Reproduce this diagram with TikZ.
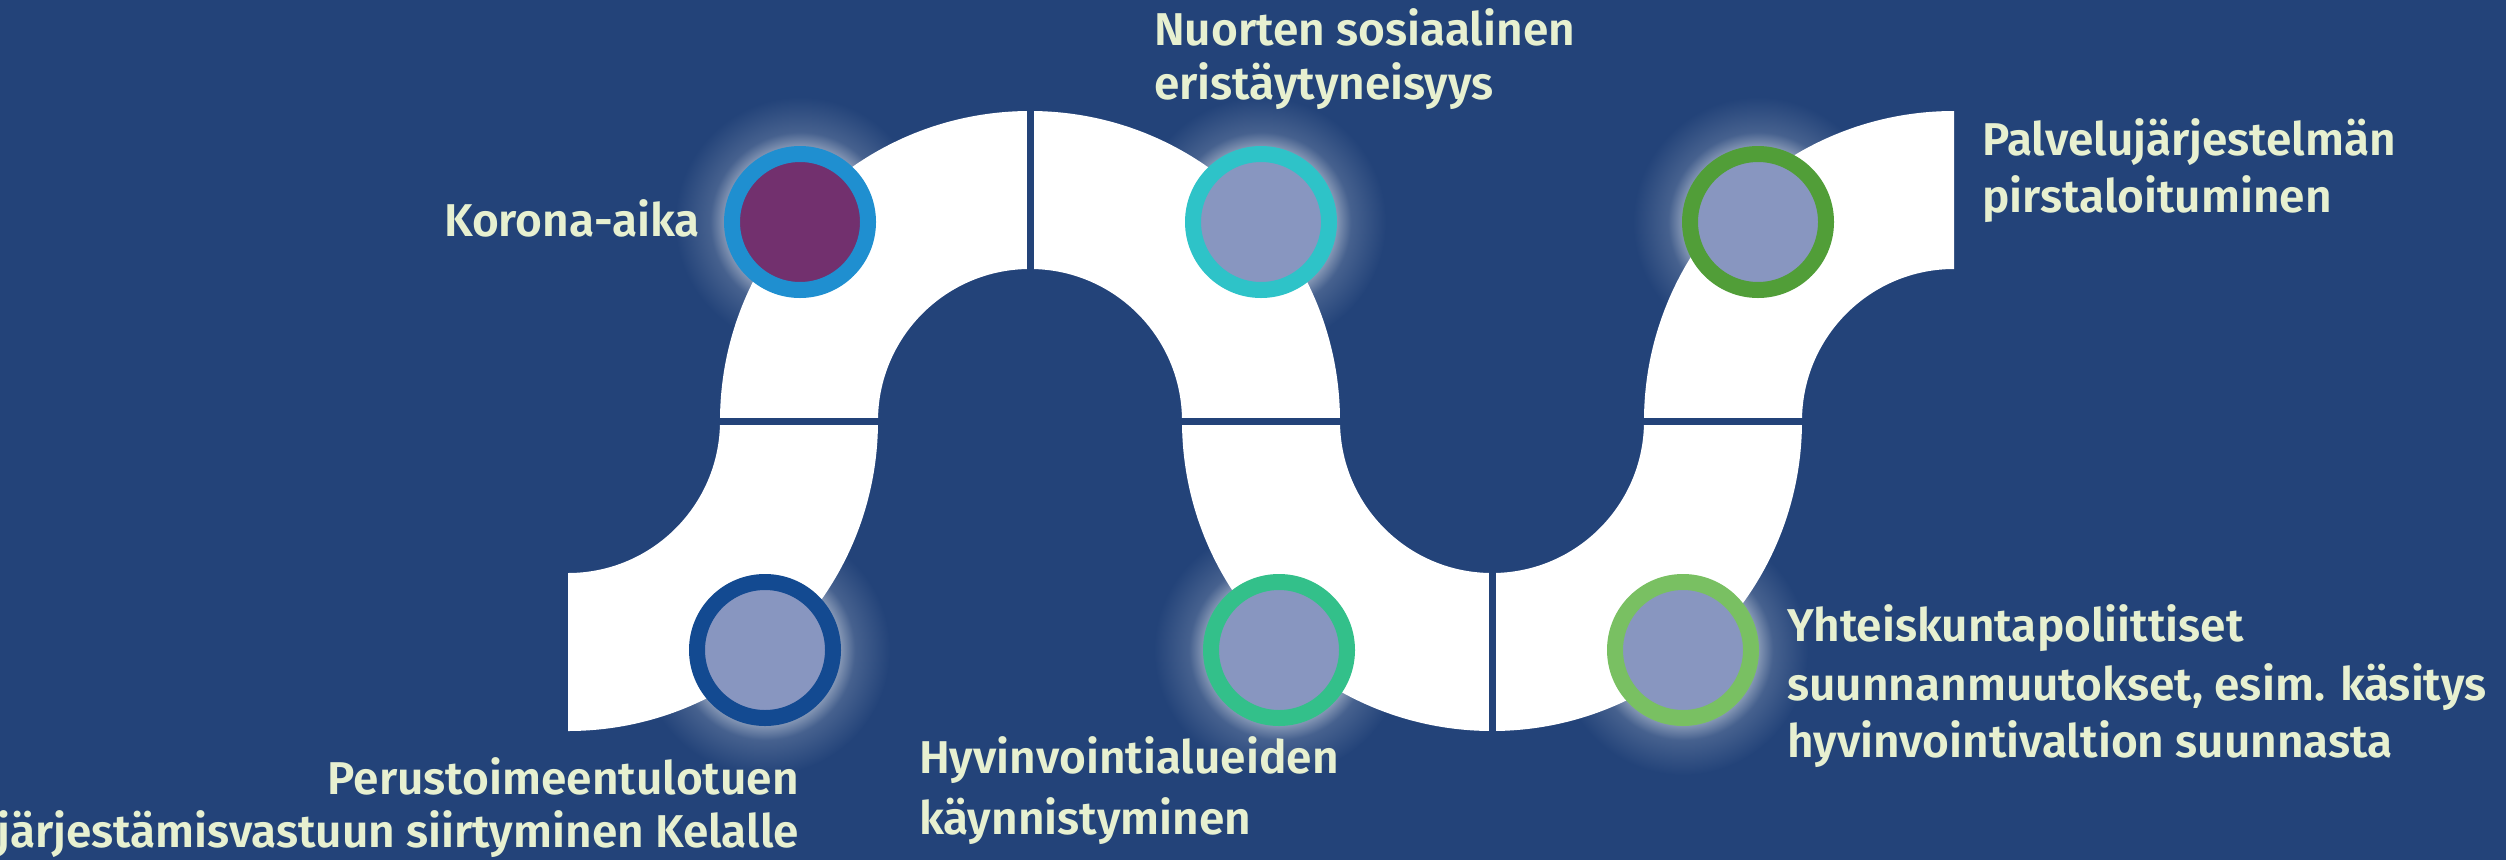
\documentclass[tikz,border=0pt]{standalone}
\usepackage{fontspec}
\setmainfont{Fira Sans SemiBold}
\definecolor{bg}{RGB}{35,67,121}
\definecolor{txt}{RGB}{231,240,208}
\definecolor{dotfill}{RGB}{136,150,192}
\definecolor{purp}{RGB}{114,48,110}
\definecolor{ringA}{RGB}{31,143,208}
\definecolor{ringB}{RGB}{46,195,200}
\definecolor{ringC}{RGB}{81,158,56}
\definecolor{ringD}{RGB}{19,74,145}
\definecolor{ringE}{RGB}{51,192,138}
\definecolor{ringF}{RGB}{121,192,98}
\colorlet{glowin}{white!45!bg}
\colorlet{glowmid}{white!16!bg}
\pgfdeclareradialshading{glow}{\pgfpoint{0bp}{0bp}}{color(0bp)=(glowin); color(15bp)=(glowin); color(18bp)=(glowmid); color(25bp)=(bg); color(50bp)=(bg)}
\tikzset{
  dot/.style={circle, inner sep=0pt, minimum size=136pt, line width=16pt, fill=dotfill},
  lbl/.style={text=txt, inner sep=0pt, font=\fontsize{46}{59}\selectfont},
  gap/.style={draw=bg, line width=7pt},
  halo/.style={shading=glow},
}
\begin{document}
\begin{tikzpicture}[x=1pt,y=-1pt]
\useasboundingbox (0,0) rectangle (2506,860);
\fill[bg] (0,0) rectangle (2506,860);
% glows
\foreach \p in {(800,222),(1261,222),(1758,222),(765,650),(1279,650),(1683,650)}
  \shade[halo] \p circle (125);
% band
\fill[white] (878,421) arc[start angle=0,end angle=90,radius=310] -- (568,573) arc[start angle=90,end angle=0,radius=152] -- cycle;
\fill[white] (720,421) arc[start angle=180,end angle=360,radius=310] -- (1182,421) arc[start angle=360,end angle=180,radius=152] -- cycle;
\fill[white] (1802,421) arc[start angle=0,end angle=180,radius=310] -- (1340,421) arc[start angle=180,end angle=0,radius=152] -- cycle;
\fill[white] (1644,421) arc[start angle=180,end angle=270,radius=310] -- (1954,269) arc[start angle=270,end angle=180,radius=152] -- cycle;
% dividers
\coordinate (h1a) at (716,421); \coordinate (h1b) at (882,421);
\coordinate (h2a) at (1178,421); \coordinate (h2b) at (1344,421);
\coordinate (h3a) at (1640,421); \coordinate (h3b) at (1806,421);
\coordinate (v1a) at (1030,107); \coordinate (v1b) at (1030,273);
\coordinate (v2a) at (1492,569); \coordinate (v2b) at (1492,735);
\draw[gap] (h1a) -- (h1b);
\draw[gap] (h2a) -- (h2b);
\draw[gap] (h3a) -- (h3b);
\draw[gap] (v1a) -- (v1b);
\draw[gap] (v2a) -- (v2b);
% dots
\node[dot, draw=ringA, fill=purp] (c1) at (800,222) {};
\node[dot, draw=ringB] (c2) at (1261,222) {};
\node[dot, draw=ringC] (c3) at (1758,222) {};
\node[dot, draw=ringD] (c4) at (765,650) {};
\node[dot, draw=ringE] (c5) at (1279,650) {};
\node[dot, draw=ringF] (c6) at (1683,650) {};
% labels
\node[lbl, anchor=base west] (t1) at (444,236) {Korona-aika};
\node[lbl, anchor=base west] (t2a) at (1154,45) {Nuorten sosiaalinen};
\node[lbl, anchor=base west] (t2b) at (1154,99) {eristäytyneisyys};
\node[lbl, anchor=base west] (t3a) at (1982,155) {Palvelujärjestelmän};
\node[lbl, anchor=base west] (t3b) at (1982,212) {pirstaloituminen};
\node[lbl, anchor=base east] (t4a) at (799,794) {Perustoimeentulotuen};
\node[lbl, anchor=base east] (t4b) at (799,847) {järjestämisvastuun siirtyminen Kelalle};
\node[lbl, anchor=base west] (t5a) at (919,773) {Hyvinvointialueiden};
\node[lbl, anchor=base west] (t5b) at (919,834) {käynnistyminen};
\node[lbl, anchor=base west] (t6a) at (1787,641) {Yhteiskuntapoliittiset};
\node[lbl, anchor=base west] (t6b) at (1787,700) {suunnanmuutokset, esim. käsitys};
\node[lbl, anchor=base west] (t6c) at (1787,757) {hyvinvointivaltion suunnasta};
\end{tikzpicture}
\end{document}
